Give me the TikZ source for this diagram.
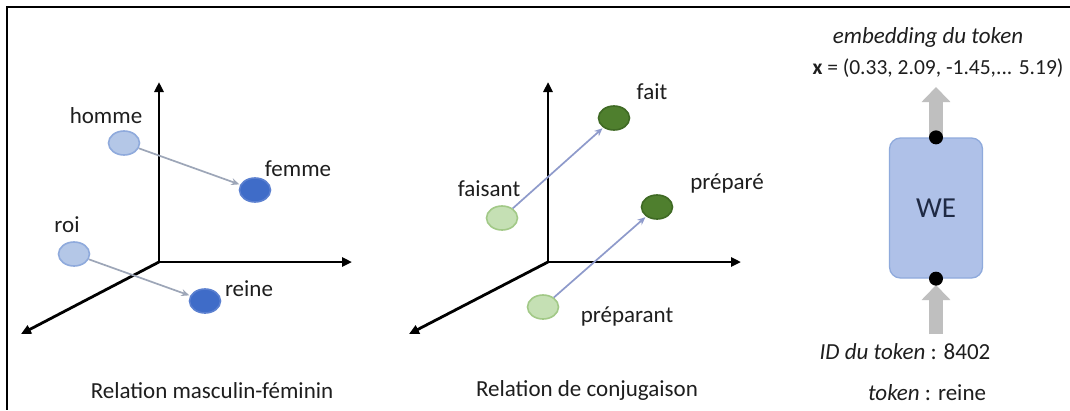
\documentclass[tikz,border=0pt]{standalone}
\usepackage{fontspec}
\setmainfont{Carlito}
\usetikzlibrary{arrows.meta,shapes.geometric}
\definecolor{txt}{HTML}{1E1E1E}
\definecolor{lblue}{HTML}{B4C7E7}
\definecolor{lblueedge}{HTML}{8FAADC}
\definecolor{dblue}{HTML}{3F6CC8}
\definecolor{dblueedge}{HTML}{5B80D0}
\definecolor{lgreen}{HTML}{C5E0B4}
\definecolor{lgreenedge}{HTML}{A2C987}
\definecolor{dgreen}{HTML}{4F7F2E}
\definecolor{dgreenedge}{HTML}{3F6A24}
\definecolor{vecgray}{HTML}{9DA6B8}
\definecolor{veclav}{HTML}{8E9ACB}
\definecolor{blockgray}{HTML}{BFBFBF}
\definecolor{wefill}{HTML}{AFC1E8}
\definecolor{weedge}{HTML}{8FAADC}
\definecolor{wetext}{HTML}{1F2A44}
\tikzset{
  lbl/.style={font=\fontsize{23}{27}\selectfont, text=txt, inner sep=0pt},
  axis/.style={line width=2.8pt, black, -{Triangle[length=10pt,width=9pt]}},
  pt/.style={ellipse, minimum width=31pt, minimum height=24pt, inner sep=0pt, line width=1.6pt},
  srcblue/.style={pt, fill=lblue, draw=lblueedge},
  dstblue/.style={pt, fill=dblue, draw=dblueedge},
  srcgreen/.style={pt, fill=lgreen, draw=lgreenedge},
  dstgreen/.style={pt, fill=dgreen, draw=dgreenedge},
  vec/.style={line width=1.7pt, -{Stealth[length=8pt,width=7pt]}, shorten >=1pt},
  block/.style={line width=14pt, blockgray, -{Triangle[length=15pt,width=28pt]}},
  dot/.style={circle, fill=black, minimum size=14pt, inner sep=0pt},
}
\begin{document}
\begin{tikzpicture}[x=1pt,y=-1pt]
\useasboundingbox (0,0) rectangle (1070,410);
\fill[white] (0,0) rectangle (1070,410);
% frame (top and left edges)
\draw[line width=2.4pt] (1070,7) -- (7,7) -- (7,410);

% ---------- masculine / feminine ----------
\coordinate (o1) at (159,262);
\coordinate (o1up) at (159,82);
\coordinate (o1right) at (352,262);
\coordinate (o1diag) at (21,334);
\draw[axis] (o1) -- (o1up);
\draw[axis] (o1) -- (o1right);
\draw[axis] (o1) -- (o1diag);

\node[srcblue] (homme) at (124,143) {};
\node[dstblue] (femme) at (255,190) {};
\node[srcblue] (roi) at (74,254) {};
\node[dstblue] (reine) at (205,301) {};
\draw[vec, vecgray] (homme) -- (femme);
\draw[vec, vecgray] (roi) -- (reine);
\node[lbl] (lhomme) at (106,116) {homme};
\node[lbl] (lfemme) at (298,169) {femme};
\node[lbl] (lroi) at (67,225) {roi};
\node[lbl] (lreine) at (249,289) {reine};
\node[lbl] (cap1) at (212,391) {Relation masculin-féminin};

% ---------- conjugation ----------
\coordinate (o2) at (548,262);
\coordinate (o2up) at (548,82);
\coordinate (o2right) at (741,262);
\coordinate (o2diag) at (409,334);
\draw[axis] (o2) -- (o2up);
\draw[axis] (o2) -- (o2right);
\draw[axis] (o2) -- (o2diag);

\node[srcgreen] (faisant) at (502,218) {};
\node[dstgreen] (fait) at (614,118) {};
\node[srcgreen] (preparant) at (543,307) {};
\node[dstgreen] (prepare) at (657,207) {};
\draw[vec, veclav] (faisant) -- (fait);
\draw[vec, veclav] (preparant) -- (prepare);
\node[lbl] (lfait) at (652,92) {fait};
\node[lbl] (lfaisant) at (489,189) {faisant};
\node[lbl] (lprepare) at (727,183) {préparé};
\node[lbl] (lpreparant) at (627,316) {préparant};
\node[lbl] (cap2) at (587,390) {Relation de conjugaison};

% ---------- word embedding block ----------
\node[draw=weedge, fill=wefill, line width=1.3pt, rounded corners=11pt,
      minimum width=93pt, minimum height=140pt, inner sep=0pt,
      font=\fontsize{29}{33}\selectfont, text=wetext] (we) at (936,208) {WE};
\coordinate (outtip) at (936,87);
\coordinate (inbase) at (936,334);
\coordinate (intip) at (936,285);
\draw[block] (we.north) -- (outtip);
\draw[block] (inbase) -- (intip);
\node[dot] (dtop) at (we.north) {};
\node[dot] (dbot) at (we.south) {};

\node[lbl] (embname) at (928,37) {\itshape embedding du token};
\node[lbl, font=\fontsize{21.5}{25}\selectfont] (embval) at (938,68) {\textbf{x} = (0.33, 2.09, -1.45,... 5.19)};
\node[lbl] (tokid) at (905,352) {\textit{ID du token} : 8402};
\node[lbl] (tok) at (927,393) {\textit{token} : reine};
\end{tikzpicture}
\end{document}
